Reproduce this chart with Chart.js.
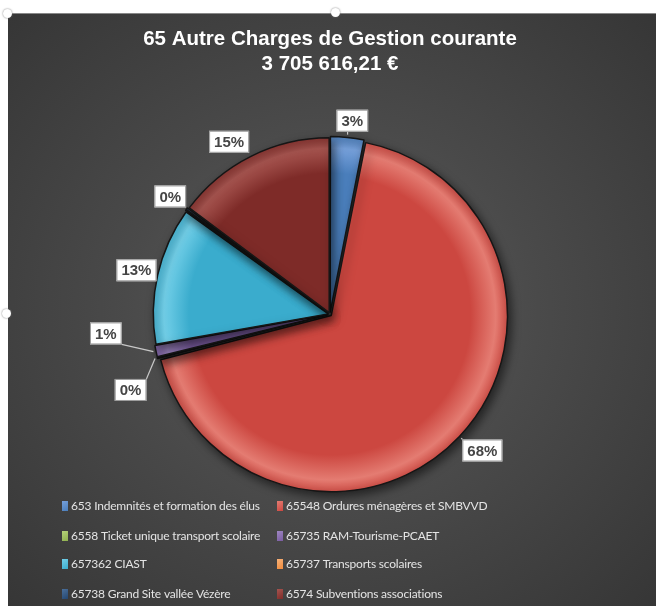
<!DOCTYPE html>
<html lang="fr">
<head>
<meta charset="UTF-8">
<title>65 Autre Charges de Gestion courante</title>
<script src="https://cdn.jsdelivr.net/npm/chart.js@4.4.1/dist/chart.umd.min.js"></script>
<style>
  html, body { margin: 0; padding: 0; background: #fff; }
  #cadre {
    position: absolute; left: 8px; top: 13px; width: 648px; height: 593px;
    background: radial-gradient(ellipse at 50% 50%, #5e5e5e 0%, #4a4a4a 45%, #363636 100%);
    border-top: 1px solid #888;
  }
  .poignee { position: absolute; width: 9px; height: 9px; border-radius: 50%; background: #fff; box-shadow: 0 0 2px #777; }
</style>
</head>
<body>
<div id="cadre"><canvas id="graphique" width="648" height="593"></canvas></div>
<div class="poignee" style="left:3px;top:9px"></div>
<div class="poignee" style="left:331px;top:8px"></div>
<div class="poignee" style="left:2px;top:309px"></div>

<script>
// donnees du graphique
const categories = [
    "653 Indemnités et formation des élus",
    "65548 Ordures ménagères et SMBVVD",
    "6558 Ticket unique transport scolaire",
    "65735 RAM-Tourisme-PCAET",
    "657362 CIAST",
    "65737 Transports scolaires",
    "65738 Grand Site vallée Vézère",
    "6574 Subventions associations"
];
const montants = [115000, 2515000, 6000, 40000, 470000, 4000, 8000, 547616];
const titre = ["65 Autre Charges de Gestion courante", "3 705 616,21 €"];

const couleurs = ["#4a7ebb", "#cc4740", "#8fb04e", "#7a5ca0", "#3aaccd", "#f08a3a", "#24466f", "#7e2b28"];
const clairs   = ["#76a0da", "#e47c72", "#b5d27a", "#9e86c2", "#72cfe8", "#f7b27a", "#4a6f9a", "#a6544f"];

const total = montants.reduce((a, b) => a + b, 0);

function degrade(ctx, i) {
    const chart = ctx.chart;
    const area = chart.chartArea;
    if (!area) return couleurs[i];
    const cx = (area.left + area.right) / 2, cy = (area.top + area.bottom) / 2;
    const r = Math.min(area.width, area.height) / 2;
    const g = chart.ctx.createRadialGradient(cx, cy, 0, cx, cy, r);
    g.addColorStop(0, couleurs[i]);
    g.addColorStop(0.78, couleurs[i]);
    g.addColorStop(0.92, clairs[i]);
    g.addColorStop(1, couleurs[i]);
    return g;
}

const ombre = {
    id: 'ombre',
    beforeDatasetsDraw(chart) {
        const c = chart.ctx;
        c.save();
        c.shadowColor = 'rgba(0,0,0,0.55)';
        c.shadowBlur = 10;
        c.shadowOffsetX = 3;
        c.shadowOffsetY = 4;
    },
    afterDatasetsDraw(chart) {
        chart.ctx.restore();
    }
};

// etiquettes de pourcentage avec lignes de rappel
const etiquettes = {
    id: 'etiquettes',
    afterDatasetsDraw(chart, args, opts) {
        const c = chart.ctx;
        const meta = chart.getDatasetMeta(0);
        c.save();
        c.font = 'bold 15px "Liberation Sans", Arial, sans-serif';
        c.textAlign = 'center';
        c.textBaseline = 'middle';
        meta.data.forEach((arc, i) => {
            if (opts.caches.includes(i)) return;
            const p = arc.getProps(['x', 'y', 'startAngle', 'endAngle', 'outerRadius'], true);
            const mid = (p.startAngle + p.endAngle) / 2;
            const d = opts.decalages[i] || [0, 0];
            const ax = p.x + Math.cos(mid) * (p.outerRadius + 6);
            const ay = p.y + Math.sin(mid) * (p.outerRadius + 6);
            const lx = p.x + Math.cos(mid) * (p.outerRadius + 24) + d[0];
            const ly = p.y + Math.sin(mid) * (p.outerRadius + 24) + d[1];
            const txt = Math.round(montants[i] / total * 100) + '%';
            const w = c.measureText(txt).width + 10, h = 22;
            const bx = lx - w / 2, by = ly - h / 2;
            const px = Math.min(Math.max(ax, bx), bx + w);
            const py = Math.min(Math.max(ay, by), by + h);
            c.strokeStyle = '#c8c8c8';
            c.lineWidth = 1.2;
            c.beginPath();
            c.moveTo(ax, ay);
            c.lineTo(px, py);
            c.stroke();
            c.fillStyle = '#ffffff';
            c.fillRect(bx, by, w, h);
            c.strokeStyle = '#9a9a9a';
            c.lineWidth = 1;
            c.strokeRect(bx + 0.5, by + 0.5, w - 1, h - 1);
            c.fillStyle = '#454545';
            c.fillText(txt, lx, ly + 1);
        });
        c.restore();
    }
};

// legende en deux colonnes
const legende = {
    id: 'legende',
    afterDraw(chart, args, opts) {
        const c = chart.ctx;
        c.save();
        c.font = '12px Lato, "Open Sans", sans-serif';
        c.letterSpacing = '-0.2px';
        c.textBaseline = 'middle';
        c.textAlign = 'left';
        categories.forEach((lib, i) => {
            const x = opts.colonnes[i % 2];
            const y = opts.lignes[Math.floor(i / 2)];
            const g = c.createLinearGradient(x, y - 5, x + 6, y + 5);
            g.addColorStop(0, clairs[i]);
            g.addColorStop(1, couleurs[i]);
            c.fillStyle = g;
            c.fillRect(x, y - 5, 6, 10);
            c.fillStyle = '#e4e4e4';
            c.fillText(lib, x + 9, y);
        });
        c.restore();
    }
};

new Chart(document.getElementById('graphique'), {
    type: 'pie',
    data: {
        labels: categories,
        datasets: [{
            data: montants,
            backgroundColor: ctx => degrade(ctx, ctx.dataIndex),
            borderColor: '#161616',
            borderWidth: 1.5,
            offset: 7,
            hoverOffset: 0
        }]
    },
    options: {
        responsive: false,
        animation: false,
        layout: { padding: { top: 0, bottom: 114, left: 0, right: 4 } },
        plugins: {
            legend: { display: false },
            tooltip: { enabled: false },
            title: {
                display: true,
                text: titre,
                color: '#ffffff',
                font: { family: '"Liberation Sans", Arial, sans-serif', size: 20.5, weight: 'bold', lineHeight: 1.22 },
                padding: { top: 12.5, bottom: 59 }
            },
            etiquettes: {
                caches: [5],
                decalages: { 0: [3, 4], 1: [8, 0], 2: [-7, 27], 3: [-30, -22], 7: [-12, 5] }
            },
            legende: {
                colonnes: [54, 269],
                lignes: [492, 522, 550, 580]
            }
        }
    },
    plugins: [ombre, etiquettes, legende]
});
</script>
</body>
</html>
